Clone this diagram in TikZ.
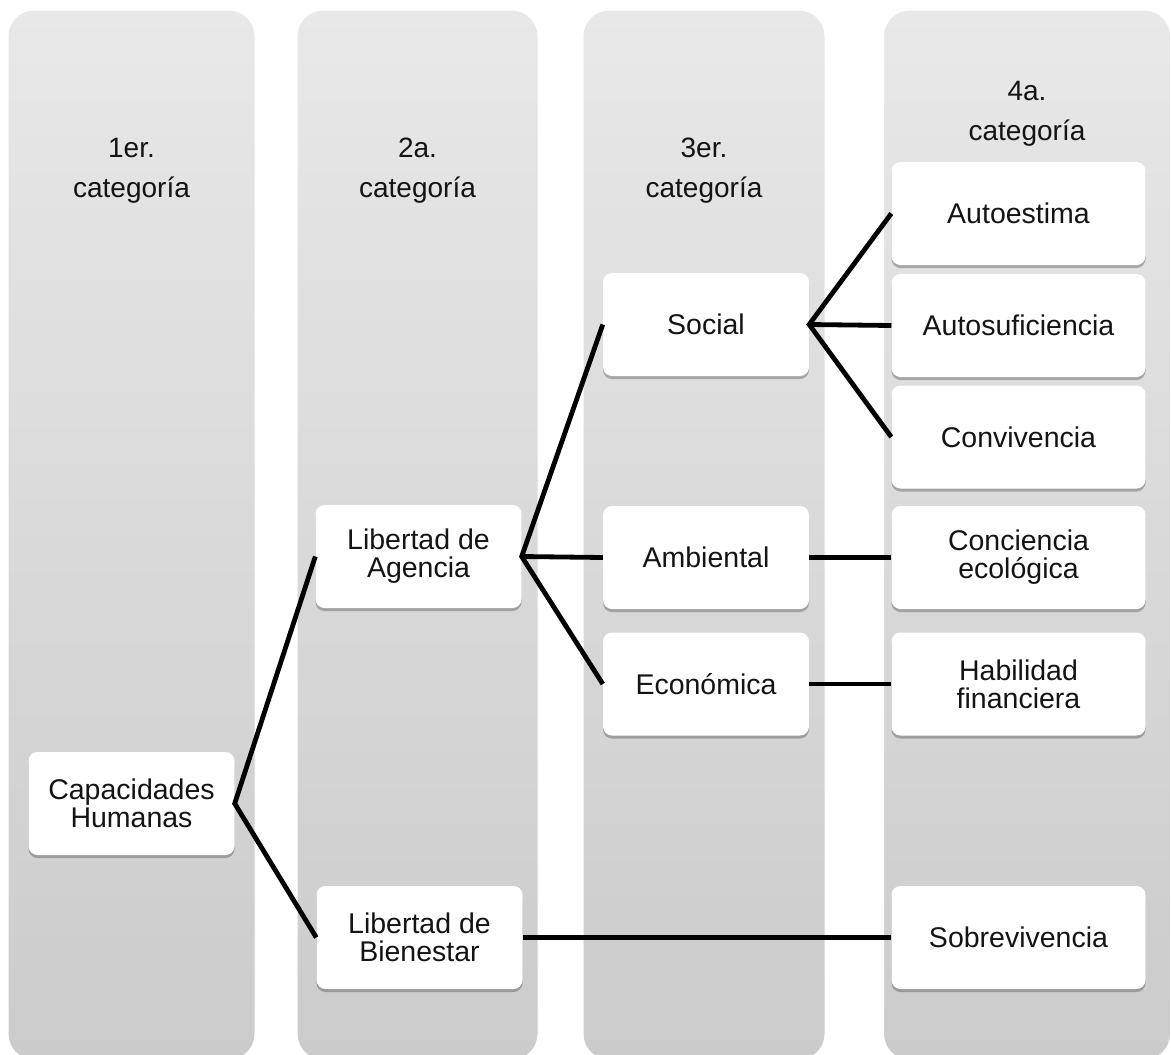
\documentclass[tikz,border=0pt]{standalone}
\usepackage{fontspec}
\setmainfont{Liberation Sans}
\usetikzlibrary{shadows}
\definecolor{coltop}{HTML}{E8E8E8}
\definecolor{colbot}{HTML}{CBCBCB}
\definecolor{txt}{HTML}{141414}
\tikzset{
  column/.style={rounded corners=26pt, top color=coltop, bottom color=colbot, draw=white, line width=1pt, inner sep=0pt},
  title/.style={align=center, text=txt, font=\fontsize{28}{40}\selectfont},
  box/.style={rounded corners=9pt, fill=white, draw=none, align=center, text=txt,
    font=\fontsize{28.5}{28}\selectfont, minimum height=103pt,
    drop shadow={shadow xshift=0pt, shadow yshift=-3pt, opacity=0.25, fill=black}},
  boxA/.style={box, minimum width=206pt},
  boxB/.style={box, minimum width=254pt},
  link/.style={line width=4.8pt, black, line join=miter}
}
\begin{document}
\begin{tikzpicture}[x=1pt,y=-1pt]
\useasboundingbox (0,0) rectangle (1171,1055);
\fill[white] (0,0) rectangle (1171,1055);
% columns
\node[column, minimum width=247pt, minimum height=1050pt] (col1) at (131.5,535) {};
\node[column, minimum width=241pt, minimum height=1050pt] (col2) at (417.5,535) {};
\node[column, minimum width=242pt, minimum height=1050pt] (col3) at (704,535) {};
\node[column, minimum width=287pt, minimum height=1050pt] (col4) at (1027,535) {};
% titles
\node[title] (t1) at (131.5,171) {1er.\\categoría};
\node[title] (t2) at (417.5,171) {2a.\\categoría};
\node[title] (t3) at (704,171) {3er.\\categoría};
\node[title] (t4) at (1027,114) {4a.\\categoría};
% boxes
\node[boxA] (cap) at (131.5,803.5) {Capacidades\\Humanas};
\node[boxA] (age) at (418.5,556.5) {Libertad de\\Agencia};
\node[boxA] (bie) at (419.5,937.5) {Libertad de\\Bienestar};
\node[boxA] (soc) at (706,324.5) {Social};
\node[boxA] (amb) at (706,557.5) {Ambiental};
\node[boxA] (eco) at (706,684) {Económica};
\node[boxB] (aes) at (1018.5,213.5) {Autoestima};
\node[boxB] (asu) at (1018.5,325.5) {Autosuficiencia};
\node[boxB] (con) at (1018.5,437) {Convivencia};
\node[boxB] (cec) at (1018.5,557.5) {Conciencia\\ecológica};
\node[boxB] (hab) at (1018.5,684) {Habilidad\\financiera};
\node[boxB] (sob) at (1018.5,937.5) {Sobrevivencia};
% connectors
\draw[link] (age.west) -- (cap.east) -- (bie.west);
\draw[link] (soc.west) -- (age.east) -- (eco.west);
\draw[link] (age.east) -- (amb.west);
\draw[link] (aes.west) -- (soc.east) -- (con.west);
\draw[link] (soc.east) -- (asu.west);
\draw[link] (amb.east) -- (cec.west);
\draw[link] (eco.east) -- (hab.west);
\draw[link] (bie.east) -- (sob.west);
\end{tikzpicture}
\end{document}
